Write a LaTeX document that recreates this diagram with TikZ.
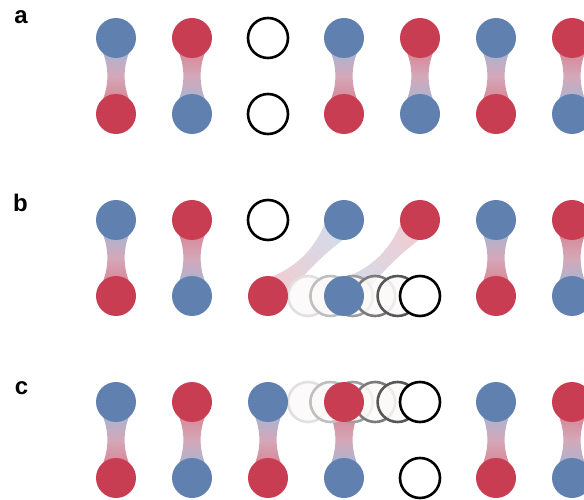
\documentclass[tikz,border=0pt]{standalone}
\usepackage{fontspec}
\newfontfamily\labfont{Liberation Sans}
\usetikzlibrary{calc}
\definecolor{cblue}{RGB}{96,128,176}
\definecolor{cred}{RGB}{201,61,83}
\definecolor{bondB}{RGB}{165,182,212}
\definecolor{bondR}{RGB}{216,130,146}
\definecolor{bondM}{RGB}{212,168,184}
\definecolor{ghostfill}{RGB}{252,249,249}
\tikzset{
  atom/.style={circle, minimum size=40pt, inner sep=0pt, draw=none},
  bat/.style={atom, fill=cblue},
  rat/.style={atom, fill=cred},
  vac/.style={atom, draw=black, line width=2.6pt, fill=white},
  ghost/.style={atom, line width=2.6pt, fill=ghostfill, fill opacity=0.88},
  lab/.style={font=\labfont\bfseries\fontsize{24}{28}\selectfont, inner sep=0pt}
}
% vertical bond between node #1 (top) and node #2 (bottom)
\newcommand\vbond[4]{%
  \shade[top color=#3, bottom color=#4, middle color=bondM]
    ($(#1)+(-15,10)$) .. controls ($(#1)+(-6.5,28)$) and ($(#2)+(-6.5,-28)$) .. ($(#2)+(-15,-10)$)
    -- ($(#2)+(15,-10)$) .. controls ($(#2)+(6.5,-28)$) and ($(#1)+(6.5,28)$) .. ($(#1)+(15,10)$) -- cycle;}
% diagonal bond from node #1 (lower left) to node #2 (upper right)
\newcommand\dbond[4]{%
  \shade[top color=#4, bottom color=#3, shading angle=-45]
    ($(#1)+(-2.83,-16.97)$) .. controls ($(#1)+(27.93,-27.22)$) and ($(#2)+(-27.21,27.92)$) .. ($(#2)+(-16.96,-2.84)$)
    -- ($(#2)+(2.84,16.96)$) .. controls ($(#2)+(-20.85,34.28)$) and ($(#1)+(34.29,-20.86)$) .. ($(#1)+(16.97,2.83)$) -- cycle;}
\begin{document}
\begin{tikzpicture}[x=1pt,y=-1pt]
\useasboundingbox (0,0) rectangle (584,500);
\clip (0,0) rectangle (584,500);

% labels
\node[lab] (la) at (21,17) {a};
\node[lab] (lb) at (20.5,203) {b};
\node[lab] (lc) at (21.5,388.5) {c};

% ---------------- atom positions ----------------
\coordinate (a1t) at (116,38);  \coordinate (a1b) at (116,114);
\coordinate (a2t) at (192,38);  \coordinate (a2b) at (192,114);
\coordinate (a4t) at (344,38);  \coordinate (a4b) at (344,114);
\coordinate (a5t) at (420,38);  \coordinate (a5b) at (420,114);
\coordinate (a6t) at (496,38);  \coordinate (a6b) at (496,114);
\coordinate (a7t) at (572,38);  \coordinate (a7b) at (572,114);
\coordinate (b1t) at (116,220); \coordinate (b1b) at (116,296);
\coordinate (b2t) at (192,220); \coordinate (b2b) at (192,296);
\coordinate (b3b) at (268,296);
\coordinate (b4t) at (344,220); \coordinate (b4b) at (344,296);
\coordinate (b5t) at (420,220);
\coordinate (b6t) at (496,220); \coordinate (b6b) at (496,296);
\coordinate (b7t) at (572,220); \coordinate (b7b) at (572,296);
\coordinate (c1t) at (116,402); \coordinate (c1b) at (116,478);
\coordinate (c2t) at (192,402); \coordinate (c2b) at (192,478);
\coordinate (c3t) at (268,402); \coordinate (c3b) at (268,478);
\coordinate (c4t) at (344,402); \coordinate (c4b) at (344,478);
\coordinate (c6t) at (496,402); \coordinate (c6b) at (496,478);
\coordinate (c7t) at (572,402); \coordinate (c7b) at (572,478);

% ---------------- vacancies ----------------
\node[vac] (a3t) at (268,38) {};  \node[vac] (a3b) at (268,114) {};
\node[vac] (b3t) at (268,220) {};
\node[vac] (c5b) at (420,478) {};

% ---------------- bonds ----------------
\vbond{a1t}{a1b}{bondB}{bondR}
\vbond{a2t}{a2b}{bondR}{bondB}
\vbond{a4t}{a4b}{bondB}{bondR}
\vbond{a5t}{a5b}{bondR}{bondB}
\vbond{a6t}{a6b}{bondB}{bondR}
\vbond{a7t}{a7b}{bondR}{bondB}

\vbond{b1t}{b1b}{bondB}{bondR}
\vbond{b2t}{b2b}{bondR}{bondB}
\vbond{b6t}{b6b}{bondB}{bondR}
\vbond{b7t}{b7b}{bondR}{bondB}
\dbond{b3b}{b4t}{cred!26!white}{cblue!28!white}
\dbond{b4b}{b5t}{cblue!28!white}{cred!26!white}

\vbond{c1t}{c1b}{bondB}{bondR}
\vbond{c2t}{c2b}{bondR}{bondB}
\vbond{c3t}{c3b}{bondB}{bondR}
\vbond{c4t}{c4b}{bondR}{bondB}
\vbond{c6t}{c6b}{bondB}{bondR}
\vbond{c7t}{c7b}{bondR}{bondB}

% ---------------- vacancy trails ----------------
\foreach \i/\xx/\g in {1/308/12, 2/330.4/25, 3/352.8/38, 4/375.2/52, 5/397.6/66}{
  \node[ghost, draw=black!\g] (bg\i) at (\xx,296) {};
}
\node[vac] (b5b) at (420,296) {};
\foreach \i/\xx/\g in {1/308/12, 2/330.4/25, 3/352.8/38, 4/375.2/52, 5/397.6/66}{
  \node[ghost, draw=black!\g] (cg\i) at (\xx,402) {};
}
\node[vac] (c5t) at (420,402) {};

% ---------------- atoms ----------------
\node[bat] at (a1t) {}; \node[rat] at (a1b) {};
\node[rat] at (a2t) {}; \node[bat] at (a2b) {};
\node[bat] at (a4t) {}; \node[rat] at (a4b) {};
\node[rat] at (a5t) {}; \node[bat] at (a5b) {};
\node[bat] at (a6t) {}; \node[rat] at (a6b) {};
\node[rat] at (a7t) {}; \node[bat] at (a7b) {};

\node[bat] at (b1t) {}; \node[rat] at (b1b) {};
\node[rat] at (b2t) {}; \node[bat] at (b2b) {};
\node[rat] at (b3b) {};
\node[bat] at (b4t) {}; \node[bat] at (b4b) {};
\node[rat] at (b5t) {};
\node[bat] at (b6t) {}; \node[rat] at (b6b) {};
\node[rat] at (b7t) {}; \node[bat] at (b7b) {};

\node[bat] at (c1t) {}; \node[rat] at (c1b) {};
\node[rat] at (c2t) {}; \node[bat] at (c2b) {};
\node[bat] at (c3t) {}; \node[rat] at (c3b) {};
\node[rat] at (c4t) {}; \node[bat] at (c4b) {};
\node[bat] at (c6t) {}; \node[rat] at (c6b) {};
\node[rat] at (c7t) {}; \node[bat] at (c7b) {};
\end{tikzpicture}
\end{document}
